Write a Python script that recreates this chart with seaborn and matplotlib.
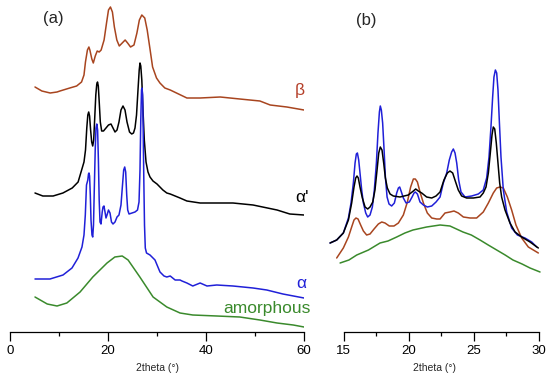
import matplotlib
matplotlib.use("Agg")
import matplotlib.pyplot as plt
import seaborn as sns
from matplotlib.ticker import MultipleLocator

# ---- panel (a): full scan, curves stacked with offset (a.u.) ----
beta_x = [5.1, 6.5, 8.2, 9.6, 10.2, 12.2, 13.6, 14.6, 15.1, 15.4, 15.8, 16.1, 16.3, 16.7, 17.0,
          17.4, 17.8, 18.2, 18.6, 19.2, 19.7, 20.1, 20.5, 20.9, 21.3, 21.8, 22.3, 22.9,
          23.5, 24.0, 24.6, 25.3, 25.9, 26.4, 26.9, 27.5, 28.0, 28.6, 29.1, 29.9, 30.6,
          31.6, 32.7, 36.1, 38.8, 42.9, 46.9, 51.0, 53.1, 56.5, 60.0]
beta_y = [245, 241, 239, 240, 241, 244, 246, 250, 257, 270, 282, 285, 282, 273, 269,
          276, 281, 280, 282, 292, 309, 322, 325, 320, 305, 292, 286, 289,
          292, 289, 285, 287, 299, 312, 317, 314, 302, 282, 265, 254, 249,
          244, 242, 234, 234, 235, 233, 231, 227, 225, 222]

alphap_x = [5.1, 6.7, 8.8, 10.8, 12.7, 13.9, 14.5, 15.10, 15.41, 15.67, 15.88, 16.06, 16.24,
            16.45, 16.67, 16.88, 17.08, 17.29, 17.51, 17.71, 17.86, 18.02, 18.22, 18.43,
            18.71, 19.08, 19.59, 20.10, 20.61, 21.02, 21.43, 21.84, 22.24, 22.65, 23.06,
            23.47, 23.88, 24.39, 24.84, 25.20, 25.51, 25.82, 26.12, 26.37, 26.53, 26.69,
            26.90, 27.14, 27.41, 27.76, 28.16, 28.57, 29.18, 30.0, 31.2, 32.0, 32.7, 34.7,
            36.1, 38.8, 41.4, 45.5, 49.6, 54.5, 57.1, 60.0]
alphap_y = [139, 136, 136, 139, 144, 150, 160, 170, 182, 204, 217, 220, 216,
            202, 190, 186, 192, 214, 237, 248, 250, 246, 229, 210,
            201, 201, 204, 207, 208, 204, 200, 202, 210, 222, 226,
            222, 210, 200, 198, 199, 204, 217, 242, 262, 269, 266,
            252, 222, 192, 170, 160, 155, 151, 148, 142, 139, 138, 134,
            131, 129, 129, 129, 127, 122, 118, 117]

alpha_x = [5.10, 8.16, 10.82, 12.65, 13.88, 14.69, 15.10, 15.37, 15.61, 15.88, 16.02, 16.12,
           16.24, 16.39, 16.53, 16.73, 16.88, 17.04, 17.20, 17.39, 17.55, 17.71, 17.88,
           18.04, 18.20, 18.37, 18.57, 18.82, 18.98, 19.18, 19.39, 19.59, 19.80, 20.10,
           20.41, 20.71, 21.02, 21.43, 21.84, 22.24, 22.65, 22.96, 23.20, 23.41, 23.61,
           23.82, 24.02, 24.29, 24.90, 25.51, 26.02, 26.33, 26.53, 26.69, 26.84, 26.94,
           27.06, 27.18, 27.31, 27.45, 27.61, 27.86, 28.57, 29.59, 30.61, 31.43, 32.0,
           32.7, 33.7, 34.7, 35.1, 36.1, 37.3, 38.8, 40.2, 42.2, 45.5, 49.6, 52.4, 55.7, 60.0]
alpha_y = [53, 53, 57, 64, 74, 85, 97, 117, 147, 152, 158, 159,
           156, 137, 112, 97, 95, 107, 142, 182, 204, 208, 202,
           172, 132, 110, 108, 120, 125, 126, 120, 114, 117, 122,
           119, 110, 108, 110, 115, 117, 127, 147, 162, 165, 160,
           137, 122, 118, 119, 120, 122, 130, 162, 212, 242, 244,
           237, 202, 152, 107, 84, 79, 77, 72, 60, 56, 55,
           56, 52, 52, 51, 49, 46, 49, 46, 47, 46, 44, 42, 38, 34]

amor_x = [5.1, 7.6, 9.6, 11.6, 14.3, 16.9, 19.8, 21.4, 22.9, 24.1, 26.5, 29.2, 32.0, 34.7,
          37.3, 42.2, 46.9, 51.0, 54.5, 57.8, 60.0]
amor_y = [35, 28, 26, 29, 40, 55, 69, 75, 76, 72, 55, 35, 25, 19,
          17, 16, 15, 12, 9, 7, 5]

# ---- panel (b): zoom 15-30 deg ----
b_black_x = [13.95, 14.46, 14.97, 15.36, 15.61, 15.79, 15.92, 16.02, 16.12, 16.25, 16.43,
             16.64, 16.84, 17.02, 17.23, 17.40, 17.56, 17.69, 17.81, 17.94, 18.07, 18.20,
             18.35, 18.56, 18.81, 19.32, 19.96, 20.35, 20.53, 20.73, 20.99, 21.37, 21.76,
             22.09, 22.40, 22.70, 22.96, 23.16, 23.37, 23.57, 23.80, 24.06, 24.44, 24.96,
             25.47, 25.72, 25.93, 26.11, 26.26, 26.39, 26.49, 26.60, 26.72, 26.85, 26.98,
             27.13, 27.39, 27.77, 28.16, 28.67, 29.31, 29.95]
b_black_y = [89, 92, 99, 112, 129, 145, 154, 156, 154, 145, 134,
             125, 123, 125, 130, 142, 162, 179, 185, 182, 169, 154,
             144, 138, 136, 135, 137, 141, 143, 141, 139, 135, 134,
             136, 140, 152, 159, 161, 159, 151, 142, 136, 134, 134,
             135, 139, 145, 159, 179, 197, 205, 203, 189, 169, 149,
             135, 122, 109, 100, 95, 90, 84]

b_blue_x = [13.95, 14.46, 14.97, 15.36, 15.56, 15.74, 15.87, 15.97, 16.05, 16.15, 16.25,
            16.38, 16.51, 16.69, 16.84, 17.02, 17.20, 17.35, 17.51, 17.63, 17.74, 17.81,
            17.89, 17.99, 18.10, 18.20, 18.33, 18.48, 18.68, 18.89, 19.07, 19.20, 19.30,
            19.43, 19.58, 19.79, 20.04, 20.25, 20.40, 20.50, 20.66, 20.86, 21.12, 21.42,
            21.76, 22.09, 22.40, 22.65, 22.91, 23.11, 23.29, 23.42, 23.55, 23.68, 23.83,
            24.01, 24.32, 24.83, 25.34, 25.72, 25.98, 26.16, 26.31, 26.44, 26.54, 26.65,
            26.75, 26.85, 26.95, 27.08, 27.26, 27.52, 27.90, 28.34, 28.92, 29.44, 29.82]
b_blue_y = [89, 92, 99, 114, 129, 149, 169, 178, 179, 172, 159,
            142, 129, 119, 115, 117, 125, 142, 169, 199, 220, 226,
            222, 209, 182, 155, 135, 128, 126, 129, 139, 144, 145,
            140, 134, 129, 130, 135, 139, 140, 138, 130, 127, 125,
            126, 130, 135, 149, 159, 172, 180, 183, 179, 169, 152,
            140, 135, 136, 138, 142, 154, 175, 205, 235, 255, 262,
            259, 242, 212, 175, 142, 120, 104, 97, 94, 90, 85]

b_brown_x = [14.46, 14.97, 15.36, 15.61, 15.79, 15.94, 16.10, 16.30, 16.51, 16.76, 17.02,
             17.33, 17.66, 17.92, 18.17, 18.50, 18.86, 19.20, 19.58, 19.89, 20.14, 20.35,
             20.50, 20.66, 20.86, 21.12, 21.42, 21.76, 22.14, 22.40, 22.78, 23.16, 23.47,
             23.80, 24.19, 24.70, 25.21, 25.72, 26.11, 26.49, 26.75, 27.00, 27.26, 27.57,
             27.90, 28.23, 28.67, 29.18, 29.95]
b_brown_y = [74, 84, 95, 105, 112, 114, 113, 107, 101, 97, 98,
             103, 108, 110, 109, 106, 106, 109, 117, 130, 145, 153,
             153, 150, 140, 129, 119, 114, 113, 113, 119, 120, 121,
             119, 115, 114, 114, 120, 129, 139, 144, 145, 144, 135,
             122, 107, 94, 85, 79]

b_green_x = [14.72, 15.4, 16.00, 16.9, 17.79, 18.4, 19.07, 19.7, 20.32, 21.37, 22.40, 23.16,
             24.16, 24.8, 25.47, 26.1, 26.75, 27.4, 28.00, 28.7, 29.31, 30.08]
b_green_y = [69, 72, 77, 82, 89, 91, 95, 99, 102, 105, 107, 106,
             100, 97, 92, 87, 82, 77, 72, 68, 64, 60]

c_beta = "#a8451f"
c_alphap = "black"
c_alpha = "#2020d8"
c_amor = "#3a8a2c"

sns.set_style("white")
plt.rcParams['font.family'] = ['Liberation Sans', 'DejaVu Sans']

fig = plt.figure(figsize=(5.5, 3.78), dpi=100)
ax1 = fig.add_axes([10 / 550, 46 / 378, 294 / 550, 332 / 378])
ax2 = fig.add_axes([324.2 / 550, 46 / 378, 221.3 / 550, 332 / 378])

lw = 1.1
sns.lineplot(x=beta_x, y=beta_y, ax=ax1, color=c_beta, lw=lw, estimator=None)
sns.lineplot(x=alphap_x, y=alphap_y, ax=ax1, color=c_alphap, lw=lw, estimator=None)
sns.lineplot(x=alpha_x, y=alpha_y, ax=ax1, color=c_alpha, lw=lw, estimator=None)
sns.lineplot(x=amor_x, y=amor_y, ax=ax1, color=c_amor, lw=lw, estimator=None)

sns.lineplot(x=b_green_x, y=b_green_y, ax=ax2, color=c_amor, lw=lw, estimator=None)
sns.lineplot(x=b_brown_x, y=b_brown_y, ax=ax2, color=c_beta, lw=lw, estimator=None)
sns.lineplot(x=b_blue_x, y=b_blue_y, ax=ax2, color=c_alpha, lw=lw, estimator=None)
sns.lineplot(x=b_black_x, y=b_black_y, ax=ax2, color=c_alphap, lw=lw, estimator=None)

ax1.set_xlim(0, 60)
ax2.set_xlim(13.5, 30.5)
for ax, lo, hi, major, minor in [(ax1, 0, 60, 20, 10), (ax2, 15, 30, 5, 2.5)]:
    ax.set_ylim(0, 332)
    for s in ['left', 'top', 'right']:
        ax.spines[s].set_visible(False)
    ax.spines['bottom'].set_bounds(lo, hi)
    ax.spines['bottom'].set_color('black')
    ax.spines['bottom'].set_linewidth(0.9)
    ax.xaxis.set_major_locator(MultipleLocator(major))
    ax.xaxis.set_minor_locator(MultipleLocator(minor))
    ax.set_yticks([])
    ax.patch.set_alpha(0)
    ax.tick_params(axis='x', which='major', direction='out', length=6.5, width=0.9,
                   labelsize=9.5, pad=2.5, bottom=True, colors='black')
    ax.tick_params(axis='x', which='minor', direction='out', length=3, width=0.9,
                   bottom=True, colors='black')
    ax.set_xlabel("2theta (°)", fontsize=7.5, labelpad=4.5)
    ax.set_ylabel("")

ax1.set_xticks([0, 20, 40, 60])
ax2.set_xticks([15, 20, 25, 30])

ax1.text(8.8, 313, "(a)", fontsize=12, ha='center', va='center')
ax2.text(16.7, 312, "(b)", fontsize=12, ha='center', va='center')

ax1.text(59.2, 241, "β", color="#b5402a", fontsize=12.5, ha='center', va='center', clip_on=False)
ax1.text(59.6, 135, "α'", color="black", fontsize=12.5, ha='center', va='center', clip_on=False)
ax1.text(59.4, 48, "α", color=c_alpha, fontsize=12.5, ha='center', va='center', clip_on=False)
ax1.text(52.4, 24, "amorphous", color=c_amor, fontsize=12.5, ha='center', va='center', clip_on=False)

fig.savefig("out.png", dpi=100)
